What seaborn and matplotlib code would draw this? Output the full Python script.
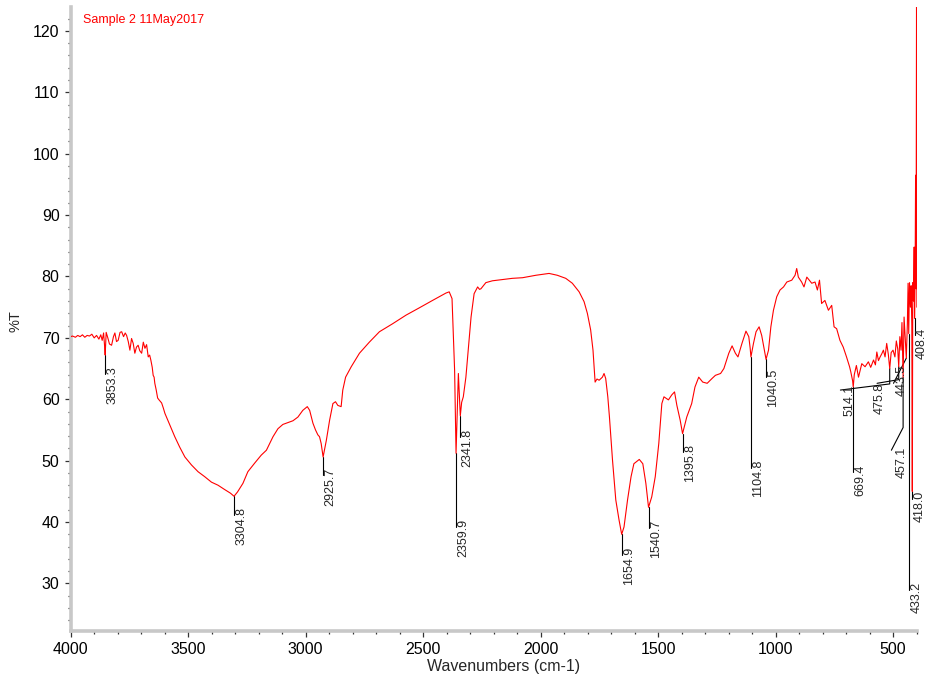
import numpy as np
import pandas as pd
import matplotlib
matplotlib.use("Agg")
import matplotlib.pyplot as plt
import matplotlib.transforms as mtransforms
from matplotlib.ticker import MultipleLocator, FixedLocator
import seaborn as sns

# ---------------- data ----------------
wavenumber = [
    4000, 3992, 3980, 3970, 3960, 3950, 3940, 3930, 3920, 3910, 3900, 3890, 3880, 3872, 3866,
    3860, 3856, 3853.3, 3849, 3842, 3835, 3826, 3818, 3812, 3805, 3798, 3790, 3783, 3775, 3768,
    3762, 3755, 3748, 3741, 3734, 3727, 3720, 3713, 3706, 3698, 3691, 3684, 3677, 3670, 3664,
    3659, 3653, 3649, 3645, 3642, 3636, 3630, 3624, 3613, 3606, 3599, 3578, 3557, 3536, 3514,
    3486, 3458, 3430, 3401, 3373, 3345, 3320, 3304.8, 3290, 3267, 3246, 3217, 3189, 3167, 3139,
    3118, 3097, 3075, 3054, 3033, 3012, 2993, 2983, 2969, 2958, 2948, 2941, 2934, 2925.7, 2912,
    2898, 2884, 2873, 2863, 2849, 2842, 2830, 2806, 2771, 2729, 2686, 2630, 2573, 2516, 2460,
    2403, 2389, 2377, 2372, 2366, 2362, 2359.9, 2355, 2350, 2345, 2341.8, 2336, 2329, 2318, 2307,
    2296, 2283, 2268, 2260, 2254, 2233, 2205, 2162, 2120, 2077, 2020, 1964, 1929, 1893, 1865,
    1836, 1815, 1801, 1787, 1777, 1768, 1760, 1751, 1737, 1730, 1723, 1714, 1707, 1694, 1680,
    1666, 1654.9, 1645, 1630, 1615, 1603, 1580, 1565, 1552, 1540.7, 1527, 1512, 1497, 1484, 1475,
    1456, 1442, 1430, 1420, 1406, 1395.8, 1378, 1357, 1343, 1327, 1310, 1291, 1270, 1256, 1234,
    1220, 1199, 1185, 1171, 1160, 1143, 1126, 1114, 1108, 1104.8, 1094, 1083, 1070, 1059, 1050,
    1040.5, 1030, 1020, 1009, 995, 981, 966, 952, 931, 917, 910, 903, 889, 879, 867,
    846, 832, 822, 813, 804, 790, 775, 761, 751, 740, 726, 712, 698, 685, 680,
    672, 669.4, 665, 656, 647, 633, 619, 605, 595, 583, 575, 569, 562, 555, 548,
    541, 534, 527, 520, 514.1, 508, 500, 492, 486, 480, 475.8, 471, 466, 462, 457.1,
    453, 448, 443.5, 439, 436, 433.2, 430, 426, 423, 420, 418.0, 416, 413, 410, 408.4,
    406, 404, 402, 400, 398.5,
]
transmittance = [
    70.2, 70.3, 70.1, 70.4, 70.2, 70.5, 70.1, 70.4, 70.3, 70.6, 70.0, 70.4, 69.8, 70.5, 69.6,
    70.8, 68.8, 67.2, 70.9, 70.0, 69.0, 68.8, 70.2, 70.8, 69.4, 69.6, 70.9, 71.0, 70.2, 70.8,
    70.4, 69.4, 68.0, 69.9, 69.1, 67.5, 68.5, 68.8, 67.9, 67.5, 69.3, 68.3, 68.9, 66.9, 67.2,
    66.4, 65.2, 63.9, 63.6, 62.6, 61.5, 60.2, 59.9, 59.4, 58.6, 57.7, 55.8, 53.9, 52.2, 50.6,
    49.3, 48.2, 47.4, 46.5, 46.0, 45.3, 44.7, 44.2, 44.9, 46.3, 48.2, 49.6, 50.9, 51.7, 53.9,
    55.2, 55.9, 56.2, 56.5, 57.1, 58.2, 58.8, 58.2, 56.1, 55.0, 54.2, 53.9, 52.8, 50.6, 53.3,
    56.6, 59.3, 59.6, 59.0, 58.8, 61.5, 63.6, 65.3, 67.5, 69.3, 71.0, 72.3, 73.7, 74.9, 76.1,
    77.3, 77.5, 76.4, 71.3, 64.7, 55.5, 51.2, 57.7, 64.2, 60.0, 57.3, 59.5, 60.4, 63.6, 68.5,
    73.4, 77.2, 78.3, 77.9, 78.0, 79.0, 79.3, 79.5, 79.7, 79.8, 80.2, 80.5, 80.2, 79.7, 78.9,
    77.5, 75.9, 74.0, 71.3, 68.0, 62.8, 63.3, 63.1, 63.6, 64.2, 63.4, 60.4, 57.1, 50.1, 43.6,
    40.3, 38.0, 39.2, 43.6, 47.4, 49.5, 50.2, 49.5, 46.3, 42.4, 44.1, 47.4, 52.8, 59.3, 60.4,
    59.9, 60.7, 61.2, 59.0, 56.6, 54.4, 57.1, 59.3, 62.0, 63.6, 62.8, 62.6, 63.4, 63.9, 64.2,
    65.0, 67.5, 68.7, 67.5, 66.9, 69.1, 71.1, 70.2, 68.3, 66.9, 69.1, 71.0, 71.8, 70.4, 68.5,
    66.5, 68.0, 71.8, 74.5, 76.7, 77.8, 78.3, 79.1, 79.4, 80.2, 81.3, 79.9, 79.1, 78.3, 79.9,
    78.9, 79.1, 77.8, 79.4, 75.6, 76.1, 74.5, 75.3, 71.8, 71.5, 69.6, 68.5, 66.9, 65.3, 64.5,
    63.0, 62.0, 64.0, 65.5, 63.6, 65.8, 65.3, 66.1, 65.2, 66.4, 65.6, 67.7, 66.3, 66.9, 67.4,
    68.0, 66.9, 69.1, 67.3, 65.0, 67.6, 68.0, 66.9, 69.5, 68.2, 65.3, 70.2, 68.0, 72.5, 63.6,
    73.4, 70.0, 66.7, 72.3, 78.9, 70.7, 79.0, 75.0, 78.5, 72.0, 45.0, 79.0, 76.0, 84.8, 73.2,
    80.0, 96.5, 78.0, 124.5, 75.0,
]

x_ticks = [4000, 3500, 3000, 2500, 2000, 1500, 1000, 500]
y_ticks = [30, 40, 50, 60, 70, 80, 90, 100, 110, 120]

# simple peak labels: label text, position, %T where the marker line ends
peak_text = ["3853.3", "3304.8", "2925.7", "2359.9", "2341.8", "1654.9", "1540.7",
             "1395.8", "1104.8", "1040.5", "669.4", "433.2", "418.0", "408.4"]
peak_pos = [3853.3, 3304.8, 2925.7, 2359.9, 2341.8, 1654.9, 1540.7,
            1395.8, 1104.8, 1040.5, 669.4, 433.2, 418.0, 408.4]
peak_line_end = [64.1, 41.1, 47.6, 39.2, 53.8, 34.6, 39.0,
                 51.4, 48.8, 63.6, 48.1, 28.9, 43.8, 70.4]

# crowded peak labels with leader lines
lead_text = ["514.1", "475.8", "457.1", "443.5"]
lead_pos = [514.1, 475.8, 457.1, 443.5]
lead_path = [[(514.1, 62.5), (724, 61.5)],
             [(475.8, 63.2), (568, 62.6)],
             [(457.1, 55.4), (507, 51.7)],
             [(498, 62.6)]]
lead_text_xy = [(711, 62.3), (583, 62.6), (490, 52.2), (490, 65.6)]

sample_title = "Sample 2 11May2017"

# ---------------- styling ----------------
sns.set_style("white")
plt.rcParams["font.family"] = ["Liberation Sans", "DejaVu Sans"]

W, H = 928, 678
fig = plt.figure(figsize=(W / 100, H / 100), dpi=100)
left_px, right_px, top_px, bot_px = 70.7, 917.0, 7.0, 630.7
ax = fig.add_axes([left_px / W, (H - bot_px) / H, (right_px - left_px) / W, (bot_px - top_px) / H])

df = pd.DataFrame({"Wavenumber": wavenumber, "T": transmittance})
sns.lineplot(data=df, x="Wavenumber", y="T", color="#ff0000", linewidth=0.8,
             estimator=None, sort=False, ax=ax, zorder=3)

ax.set_xlim(4000, 398)
ax.set_ylim(22.3, 123.9)

# peak markers
xp = np.array(wavenumber)[::-1]
yp = np.array(transmittance)[::-1]
txt_tr = mtransforms.offset_copy(ax.transData, fig=fig, x=1.5, y=8, units="dots")
for t, p, e in zip(peak_text, peak_pos, peak_line_end):
    tp = float(np.interp(p, xp, yp))
    ax.plot([p, p], [tp, e], color="black", lw=0.8, zorder=2, clip_on=False)
    ax.text(p, e, t, rotation=90, ha="left", va="top", fontsize=9,
            transform=txt_tr, clip_on=False, zorder=4)

for t, p, path, (tx, ty) in zip(lead_text, lead_pos, lead_path, lead_text_xy):
    tp = float(np.interp(p, xp, yp))
    xs = [p] + [q[0] for q in path]
    ys = [tp] + [q[1] for q in path]
    ax.plot(xs, ys, color="black", lw=0.8, zorder=2, clip_on=False)
    ax.text(tx, ty, t, rotation=90, ha="left", va="top", fontsize=9, zorder=4)

# axes look
for s in ["top", "right"]:
    ax.spines[s].set_visible(False)
for s in ["left", "bottom"]:
    ax.spines[s].set_color("#c8c8c8")
    ax.spines[s].set_linewidth(2.6)

ax.xaxis.set_major_locator(FixedLocator(x_ticks))
ax.yaxis.set_major_locator(FixedLocator(y_ticks))
ax.xaxis.set_minor_locator(MultipleLocator(100))
ax.yaxis.set_minor_locator(MultipleLocator(2))
ax.tick_params(axis="both", which="major", direction="out", length=4, width=0.9,
               color="#333333", labelsize=11.5, pad=4, labelcolor="black",
               bottom=True, left=True)
ax.tick_params(axis="both", which="minor", direction="out", length=2.5, width=0.9,
               color="#333333", bottom=True, left=True)
ax.set_xticklabels([str(v) for v in x_ticks])
ax.set_yticklabels([str(v) for v in y_ticks])

ax.set_xlabel("Wavenumbers (cm-1)", fontsize=11.5)
ax.xaxis.set_label_coords((504 - left_px) / (right_px - left_px), -0.045)
ax.set_ylabel("")
fig.text(16 / W, 1 - 321 / H, "%T", rotation=90, ha="center", va="center", fontsize=10.5)

fig.text(83 / W, 1 - 20 / H, sample_title, color="#ff0000", fontsize=9, ha="left", va="center")

fig.savefig("out.png", dpi=100)
